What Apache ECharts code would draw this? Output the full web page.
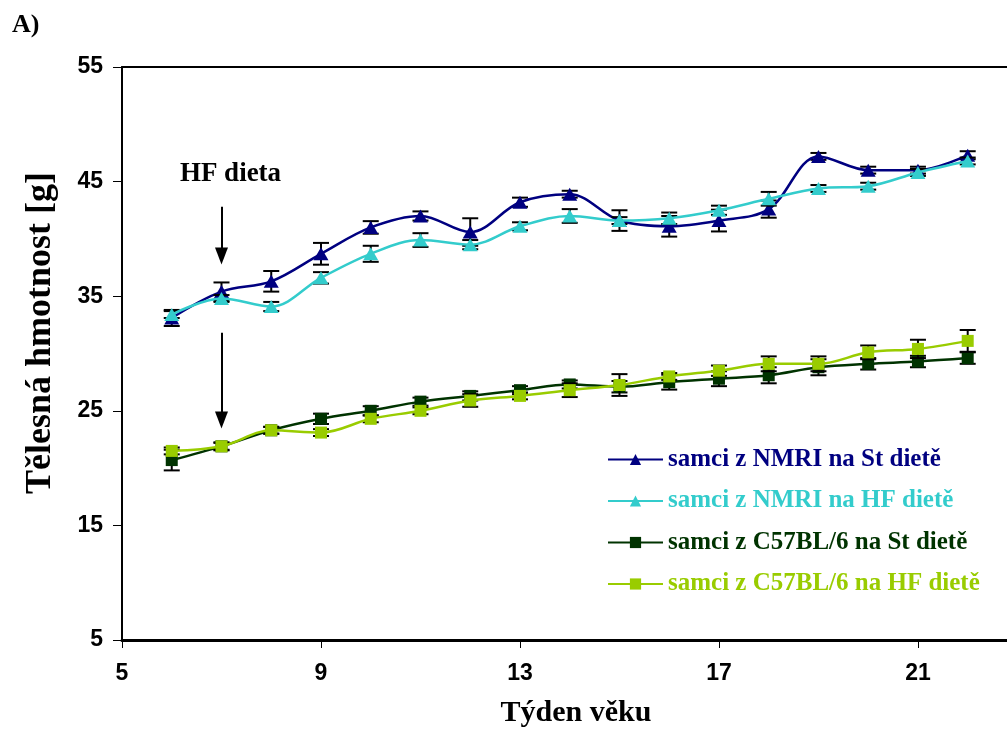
<!DOCTYPE html>
<html>
<head>
<meta charset="utf-8">
<script src="https://cdn.jsdelivr.net/npm/echarts@6/dist/echarts.min.js"></script>
<style>
  html, body { margin: 0; padding: 0; background: #fff; }
  #chart { width: 1007px; height: 735px; }
</style>
</head>
<body>
<div id="chart"></div>
<script>
// Week of age
const weeks = [6, 7, 8, 9, 10, 11, 12, 13, 14, 15, 16, 17, 18, 19, 20, 21, 22];

// Mean body weight [g] per group
const nmriSt = [33.1, 35.4, 36.3, 38.7, 41.0, 42.0, 40.6, 43.2, 43.9, 41.6, 41.1, 41.6, 42.6, 47.2, 46.0, 46.0, 47.3];
const nmriHf = [33.4, 34.8, 34.1, 36.6, 38.7, 39.9, 39.5, 41.1, 42.0, 41.6, 41.8, 42.5, 43.5, 44.4, 44.6, 45.8, 46.8];
const c57St  = [20.7, 21.9, 23.3, 24.3, 25.0, 25.8, 26.3, 26.8, 27.3, 27.1, 27.5, 27.8, 28.1, 28.8, 29.1, 29.3, 29.6];
const c57Hf  = [21.5, 21.9, 23.3, 23.1, 24.3, 25.0, 25.9, 26.3, 26.8, 27.25, 28.0, 28.5, 29.1, 29.1, 30.1, 30.4, 31.1];

// Standard error of each mean [g]
const nmriStErr = [0.7, 0.8, 0.9, 0.95, 0.55, 0.4, 1.2, 0.4, 0.3, 0.9, 0.9, 0.95, 0.75, 0.3, 0.3, 0.3, 0.35];
const nmriHfErr = [0.3, 0.3, 0.4, 0.5, 0.7, 0.6, 0.4, 0.35, 0.6, 0.3, 0.5, 0.4, 0.6, 0.3, 0.3, 0.3, 0.3];
const c57StErr  = [0.9, 0.35, 0.3, 0.45, 0.4, 0.35, 0.4, 0.35, 0.35, 0.5, 0.65, 0.65, 0.7, 0.7, 0.5, 0.5, 0.5];
const c57HfErr  = [0.3, 0.3, 0.3, 0.3, 0.3, 0.3, 0.55, 0.3, 0.6, 0.95, 0.3, 0.45, 0.65, 0.65, 0.6, 0.8, 0.95];

const seriesNames = [
  'samci z NMRI na St dietě',
  'samci z NMRI na HF dietě',
  'samci z C57BL/6 na St dietě',
  'samci z C57BL/6 na HF dietě'
];
const seriesColors = ['#000080', '#33CCCC', '#003300', '#99CC00'];
const seriesSymbols = ['triangle', 'triangle', 'rect', 'rect'];
const seriesValues = [nmriSt, nmriHf, c57St, c57Hf];
const seriesErrors = [nmriStErr, nmriHfErr, c57StErr, c57HfErr];

// Week axis: ticks every 4 weeks from 5; the plot runs off the right edge
const weekMin = 5, weekMax = 22.79, weekStep = 4;

// Start of the high-fat diet (week) and arrow spans [g]
const dietStartWeek = 7;
const arrowUpper = [42.8, 38.5];
const arrowLower = [31.8, 24.2];
const dietLabelValue = 45.7;

const SERIF = '"Liberation Serif", "Times New Roman", serif';
const SANS = '"Liberation Sans", Arial, sans-serif';

const chart = echarts.init(document.getElementById('chart'), null, { renderer: 'canvas' });

function errorBarSeries(values, errors, z) {
  return {
    type: 'custom',
    silent: true,
    z: z,
    data: weeks.map((w, i) => [w, values[i], errors[i]]),
    renderItem: function (params, api) {
      const x = api.value(0), y = api.value(1), e = api.value(2);
      const top = api.coord([x, y + e]);
      const bot = api.coord([x, y - e]);
      const hw = 8;
      const style = { stroke: '#000', lineWidth: 2 };
      return {
        type: 'group',
        children: [
          { type: 'line', shape: { x1: top[0], y1: top[1], x2: bot[0], y2: bot[1] }, style: style },
          { type: 'line', shape: { x1: top[0] - hw, y1: top[1], x2: top[0] + hw, y2: top[1] }, style: style },
          { type: 'line', shape: { x1: bot[0] - hw, y1: bot[1], x2: bot[0] + hw, y2: bot[1] }, style: style }
        ]
      };
    }
  };
}

const series = [];
seriesValues.forEach((vals, k) => {
  series.push(errorBarSeries(vals, seriesErrors[k], 2 + k * 2));
});
seriesValues.forEach((vals, k) => {
  const s = {
    name: seriesNames[k],
    type: 'line',
    z: 3 + k * 2,
    smooth: 0.35,
    data: weeks.map((w, i) => [w, vals[i]]),
    symbol: seriesSymbols[k],
    symbolSize: seriesSymbols[k] === 'triangle' ? [15, 13] : 12,
    showSymbol: true,
    color: seriesColors[k],
    itemStyle: { color: seriesColors[k] },
    lineStyle: { color: seriesColors[k], width: 2.5 },
    emphasis: { disabled: true },
    animation: false
  };
  if (k === 0) {
    s.markLine = {
      silent: true,
      symbol: ['none', 'triangle'],
      symbolSize: [13, 17],
      label: { show: false },
      lineStyle: { color: '#000', width: 2, type: 'solid' },
      data: [
        [{ coord: [dietStartWeek, arrowUpper[0]] }, { coord: [dietStartWeek, arrowUpper[1]] }],
        [{ coord: [dietStartWeek, arrowLower[0]] }, { coord: [dietStartWeek, arrowLower[1]] }]
      ],
      animation: false
    };
  }
  series.push(s);
});

chart.setOption({
  animation: false,
  backgroundColor: '#fff',
  grid: { left: 122, top: 67, right: 0, bottom: 95, show: false },
  xAxis: [
    {
      type: 'value',
      min: weekMin, max: weekMax, interval: weekStep,
      axisLine: { show: true, lineStyle: { color: '#000', width: 3 } },
      axisTick: {
        show: true, length: 8, lineStyle: { color: '#000', width: 1 },
        interval: function (idx, val) { return (val - weekMin) % weekStep === 0; }
      },
      axisLabel: {
        fontFamily: SANS, fontWeight: 'bold', fontSize: 23, color: '#000', margin: 22,
        showMaxLabel: false
      },
      splitLine: { show: false }
    },
    {
      // frame line along the top of the plot
      type: 'value', position: 'top',
      min: weekMin, max: weekMax,
      axisLine: { show: true, lineStyle: { color: '#000', width: 2 } },
      axisTick: { show: false },
      axisLabel: { show: false },
      splitLine: { show: false }
    }
  ],
  yAxis: {
    type: 'value',
    min: 5, max: 55, interval: 10,
    axisLine: { show: true, lineStyle: { color: '#000', width: 2 } },
    axisTick: { show: true, length: 9, lineStyle: { color: '#000', width: 1 } },
    axisLabel: { fontFamily: SANS, fontWeight: 'bold', fontSize: 23, color: '#000', margin: 19 },
    splitLine: { show: false }
  },
  legend: {
    orient: 'vertical',
    left: 602, top: 442,
    itemWidth: 55, itemHeight: 14, itemGap: 16.5,
    selectedMode: false,
    textStyle: { fontFamily: SERIF, fontWeight: 'bold', fontSize: 25 },
    data: seriesNames.map((n, i) => ({ name: n, textStyle: { color: seriesColors[i] } }))
  },
  series: series
});

// Text annotations placed from axis coordinates
const labelPos = chart.convertToPixel({ xAxisIndex: 0, yAxisIndex: 0 }, [dietStartWeek, dietLabelValue]);
chart.setOption({
  graphic: [
    {
      type: 'text', left: 12, top: 12,
      style: { text: 'A)', font: 'bold 26px ' + SERIF, fill: '#000' }
    },
    {
      type: 'text', x: labelPos[0] + 9, y: labelPos[1],
      style: { text: 'HF dieta', font: 'bold 27px ' + SERIF, fill: '#000', align: 'center', verticalAlign: 'middle' }
    },
    {
      type: 'text', x: 41, y: 333, rotation: Math.PI / 2,
      style: { text: 'Tělesná hmotnost [g]', font: 'bold 36px ' + SERIF, fill: '#000', align: 'center', verticalAlign: 'middle' }
    },
    {
      type: 'text', x: 576, y: 713,
      style: { text: 'Týden věku', font: 'bold 30px ' + SERIF, fill: '#000', align: 'center', verticalAlign: 'middle' }
    }
  ]
});
</script>
</body>
</html>
